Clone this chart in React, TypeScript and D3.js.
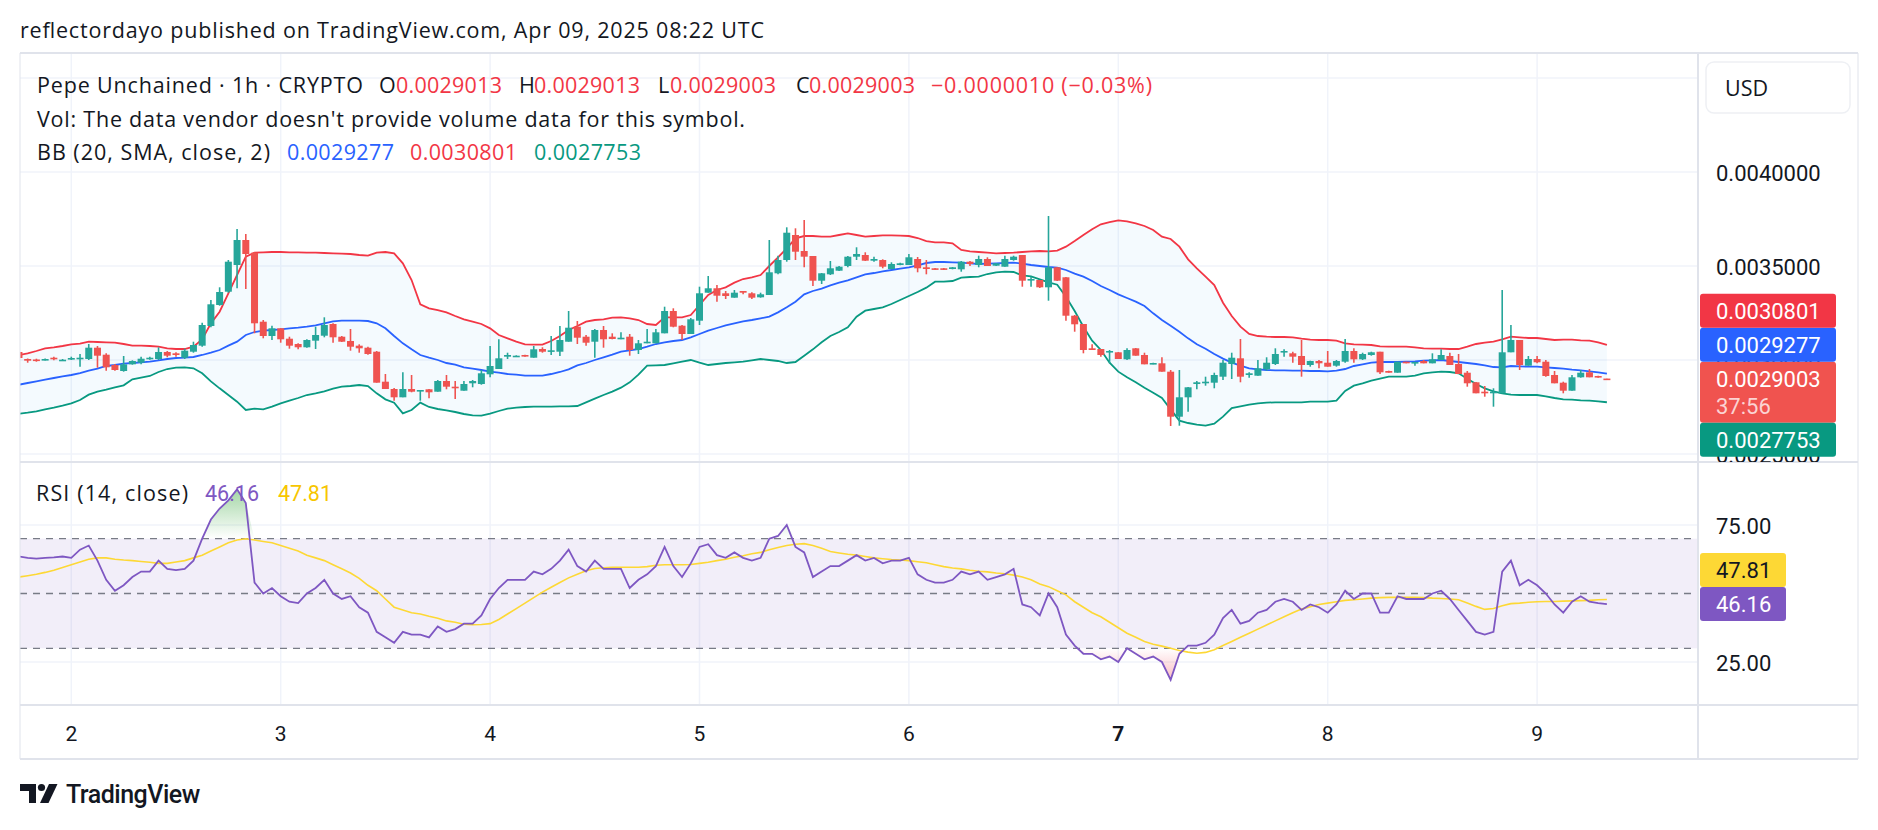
import React from "react";
import * as d3 from "d3";

// Prices are stored in units of 0.0000001 USD
const PRICE_UNIT = 1e-7;

const OPEN = [
  30426, 30053, 30027, 30000, 30122, 29984, 30053, 30053, 30053, 30654,
  30282, 29734, 29415, 29771, 29856, 30053, 30053, 30426, 30356, 30122,
  30441, 30761, 31808, 32925, 33633, 35053, 36383, 35707, 32037, 31277,
  31686, 31133, 30851, 30676, 31027, 31292, 31915, 31239, 31011, 30761,
  30654, 30441, 28846, 28457, 28016, 28457, 28351, 28442, 28314, 28883,
  28580, 28367, 28761, 28723, 29239, 29521, 30176, 30213, 30266, 30122,
  30585, 30479, 30441, 30973, 31771, 31239, 30973, 31596, 31239, 31154,
  31239, 30532, 30957, 30888, 31420, 32606, 31824, 31383, 32090, 33580,
  33814, 33548, 33314, 33670, 33548, 33335, 33457, 34612, 35319, 36649,
  35798, 35532, 34218, 34558, 34750, 35000, 35495, 35585, 35282, 35319,
  34840, 35053, 35053, 35372, 34931, 34878, 34878, 34840, 34824, 35229,
  35053, 35372, 35016, 34963, 35319, 35585, 34255, 34255, 33867, 34931,
  34399, 32356, 31915, 30622, 30585, 30410, 30410, 30037, 30622, 30266,
  29787, 29824, 29378, 26984, 28016, 28723, 28761, 28793, 29112, 29787,
  30090, 29202, 29165, 29505, 29787, 30410, 30356, 30213, 29734, 29947,
  29856, 29697, 29910, 30479, 30037, 30266, 30441, 29415, 29324, 29910,
  29824, 29947, 29824, 30000, 30213, 29787, 29324, 28814, 28314, 28229,
  28229, 30410, 31064, 29697, 30053, 29910, 29202, 28793, 28367, 29080,
  29346, 29149, 29013,
];
const HIGH = [
  30532, 30080, 30069, 30080, 30176, 30053, 30176, 30319, 30851, 30745,
  30356, 29787, 30213, 29984, 30176, 30176, 30676, 30479, 30410, 30601,
  30973, 31984, 33191, 33867, 35319, 36968, 36702, 35745, 32128, 31824,
  31702, 31239, 30888, 31101, 31771, 32271, 31952, 31277, 31649, 30835,
  30707, 30479, 29255, 28511, 29346, 29202, 28404, 28457, 28936, 29202,
  28883, 28883, 28936, 29468, 30745, 31101, 30388, 30250, 30282, 30745,
  30676, 31277, 31808, 32606, 32074, 31330, 31649, 31808, 31420, 31473,
  31383, 31064, 31649, 31649, 32835, 32750, 31862, 32234, 33899, 34468,
  33989, 33670, 33723, 33670, 33601, 33580, 36383, 35548, 37058, 37005,
  37447, 35532, 34628, 35266, 35000, 35532, 35995, 35729, 35495, 35356,
  35197, 35176, 35638, 35479, 35319, 34893, 34893, 34947, 35266, 35266,
  35548, 35463, 35160, 35548, 35548, 35585, 34431, 34255, 37659, 34947,
  34415, 32394, 31915, 30835, 30585, 30532, 30426, 30622, 30638, 30388,
  29856, 30144, 29468, 29468, 28564, 28883, 29112, 29324, 30000, 30388,
  31117, 29346, 30000, 30144, 30622, 30569, 30441, 31064, 29963, 30000,
  30479, 30000, 31117, 30622, 30388, 30441, 30441, 29431, 29910, 29910,
  29910, 30000, 30356, 30569, 30388, 30319, 29415, 28830, 28617, 28495,
  33723, 31862, 31064, 30213, 30213, 30000, 29415, 28846, 29202, 29468,
  29521, 29165, 29013,
];
const LOW = [
  30000, 29856, 29910, 29973, 29984, 29947, 30000, 29644, 30000, 29590,
  29431, 29431, 29378, 29750, 29771, 30016, 30000, 30144, 30176, 30053,
  30388, 30707, 31739, 32888, 33580, 33814, 33776, 31420, 31154, 31064,
  30920, 30601, 30569, 30654, 30585, 31207, 30920, 30957, 30495, 30388,
  30282, 28793, 28457, 27835, 28016, 28282, 27835, 27963, 28314, 28442,
  27926, 28367, 28548, 28686, 29080, 29521, 30053, 30197, 30176, 30122,
  30388, 30266, 30213, 30973, 30851, 30761, 30122, 30654, 31101, 31101,
  30229, 30319, 30888, 30888, 31420, 31739, 31064, 31383, 31862, 33580,
  33101, 33245, 33314, 33495, 33245, 33314, 33457, 34558, 35229, 35319,
  34931, 33936, 34043, 34521, 34734, 34931, 35319, 35266, 35229, 34878,
  34824, 35037, 35053, 34665, 34558, 34803, 34787, 34824, 34697, 35000,
  34931, 35000, 35000, 34963, 35282, 33899, 33899, 33830, 33154, 34202,
  32090, 31505, 30356, 30532, 30176, 29824, 30053, 30000, 30229, 29771,
  29771, 29378, 26489, 26505, 27250, 28442, 28633, 28495, 28936, 28989,
  28814, 29059, 29165, 29431, 29734, 30176, 29856, 29112, 29644, 29559,
  29644, 29644, 29856, 29856, 30000, 30229, 29255, 29324, 29324, 29824,
  29697, 29824, 29824, 30000, 29734, 29255, 28580, 28229, 28048, 27516,
  28229, 30410, 29468, 29697, 29824, 29112, 28761, 28229, 28367, 29059,
  29080, 29059, 29003,
];
const CLOSE = [
  30106, 29963, 29973, 30053, 30053, 30016, 30106, 30122, 30654, 30229,
  29612, 29468, 29771, 29947, 30069, 30122, 30426, 30229, 30266, 30495,
  30798, 31862, 32963, 33617, 35229, 36383, 35638, 31952, 31277, 31686,
  31101, 30761, 30676, 31064, 31330, 31862, 31207, 30973, 30707, 30622,
  30319, 28793, 28457, 28016, 28457, 28314, 28404, 28282, 28883, 28580,
  28495, 28723, 28883, 29293, 29681, 30090, 30266, 30229, 30197, 30569,
  30441, 30516, 31064, 31718, 31186, 30920, 31596, 31101, 31117, 31186,
  30532, 30888, 30973, 31473, 32606, 31771, 31383, 32165, 33548, 33814,
  33420, 33404, 33580, 33580, 33314, 33495, 34665, 35319, 36771, 35760,
  35495, 34218, 34612, 34878, 34963, 35495, 35638, 35282, 35372, 34963,
  35106, 35144, 35463, 34878, 34840, 34824, 34803, 34931, 35229, 35106,
  35372, 35000, 35144, 35372, 35495, 34218, 34308, 33867, 34931, 34218,
  32356, 31899, 30532, 30532, 30266, 30479, 30053, 30532, 30229, 29771,
  29840, 29378, 26984, 28016, 28548, 28814, 28846, 29202, 29856, 30122,
  29112, 29293, 29559, 29856, 30319, 30479, 30176, 29734, 29947, 29824,
  29644, 29947, 30479, 30037, 30319, 30410, 29346, 29324, 29910, 29824,
  29894, 29824, 30037, 30266, 29734, 29255, 28761, 28229, 28229, 28314,
  30410, 31064, 29734, 30053, 29878, 29149, 28761, 28367, 29080, 29324,
  29080, 29080, 29003,
];
const BB_UPPER = [
  30266, 30354, 30479, 30621, 30674, 30745, 30833, 30869, 30975, 30957,
  30940, 30922, 30851, 30762, 30762, 30745, 30709, 30621, 30585, 30585,
  30709, 31099, 31950, 32571, 33546, 34521, 35496, 35709, 35727, 35744,
  35744, 35727, 35727, 35709, 35709, 35691, 35673, 35656, 35638, 35585,
  35549, 35709, 35744, 35673, 35142, 34255, 32961, 32748, 32659, 32535,
  32341, 32163, 32039, 31915, 31684, 31329, 31152, 30975, 30833, 30816,
  30816, 31010, 31276, 31595, 31808, 32039, 32128, 32163, 32252, 32269,
  32216, 32128, 31915, 31862, 32269, 32269, 32269, 32393, 32925, 33457,
  33723, 33865, 34113, 34308, 34397, 34521, 35000, 35461, 35939, 36471,
  36595, 36595, 36560, 36560, 36649, 36737, 36649, 36560, 36595, 36631,
  36631, 36613, 36595, 36489, 36329, 36259, 36259, 36205, 35851, 35780,
  35744, 35709, 35673, 35691, 35709, 35744, 35780, 35798, 35780, 35815,
  36028, 36329, 36649, 36950, 37216, 37340, 37429, 37376, 37269, 37127,
  36915, 36560, 36436, 36028, 35354, 34876, 34431, 33989, 33049, 32340,
  31773, 31383, 31276, 31241, 31223, 31223, 31205, 31135, 31081, 31064,
  31064, 31028, 30886, 30833, 30816, 30798, 30727, 30709, 30709, 30709,
  30674, 30621, 30603, 30603, 30585, 30585, 30709, 30851, 30922, 30975,
  31099, 31241, 31205, 31170, 31170, 31117, 31064, 31081, 31081, 31046,
  31028, 30940, 30801,
];
const BB_BASIS = [
  28688, 28777, 28865, 28954, 29043, 29131, 29202, 29308, 29432, 29539,
  29681, 29734, 29805, 29840, 29876, 29911, 29982, 30053, 30106, 30124,
  30160, 30266, 30390, 30532, 30762, 30975, 31330, 31489, 31560, 31596,
  31631, 31684, 31720, 31773, 31844, 31950, 32057, 32092, 32092, 32092,
  32074, 31950, 31684, 31276, 30886, 30567, 30266, 30124, 30000, 29840,
  29752, 29610, 29539, 29468, 29379, 29326, 29255, 29220, 29167, 29167,
  29167, 29255, 29362, 29503, 29716, 29840, 30000, 30142, 30284, 30443,
  30514, 30585, 30709, 30851, 30940, 31010, 31064, 31206, 31383, 31560,
  31702, 31844, 31950, 32057, 32128, 32216, 32305, 32535, 32801, 33103,
  33493, 33670, 33794, 33971, 34113, 34237, 34397, 34556, 34627, 34716,
  34787, 34858, 34929, 35035, 35159, 35212, 35212, 35195, 35177, 35142,
  35106, 35124, 35142, 35159, 35177, 35124, 35053, 35000, 34947, 34911,
  34787, 34592, 34432, 34202, 33936, 33723, 33493, 33298, 33102, 32872,
  32482, 32127, 31826, 31507, 31152, 30833, 30603, 30319, 30071, 29858,
  29698, 29557, 29503, 29468, 29450, 29450, 29432, 29432, 29415, 29415,
  29397, 29432, 29521, 29681, 29769, 29858, 29893, 29893, 29893, 29911,
  29929, 29965, 29982, 30000, 29947, 29893, 29840, 29787, 29716, 29627,
  29610, 29681, 29663, 29645, 29645, 29610, 29574, 29539, 29486, 29450,
  29397, 29344, 29277,
];
const BB_LOWER = [
  27145, 27199, 27269, 27376, 27465, 27571, 27695, 27872, 28156, 28316,
  28422, 28546, 28652, 28971, 29060, 29149, 29361, 29521, 29592, 29610,
  29557, 29291, 28865, 28493, 28138, 27784, 27340, 27411, 27376, 27518,
  27695, 27837, 27979, 28138, 28227, 28333, 28475, 28581, 28617, 28670,
  28617, 28227, 27908, 27730, 27163, 27340, 27730, 27500, 27394, 27323,
  27234, 27128, 27057, 27039, 27145, 27287, 27411, 27465, 27500, 27518,
  27518, 27518, 27535, 27535, 27553, 27748, 27943, 28138, 28316, 28528,
  28812, 29220, 29698, 29716, 29734, 29822, 29911, 30000, 29858, 29734,
  29787, 29840, 29876, 29911, 29982, 30053, 30000, 29947, 29840, 29893,
  30230, 30567, 30940, 31276, 31489, 31737, 32305, 32624, 32713, 32801,
  32979, 33191, 33404, 33617, 33847, 34166, 34166, 34202, 34379, 34415,
  34432, 34574, 34663, 34698, 34681, 34503, 34450, 34291, 34131, 34007,
  33369, 32606, 31773, 31028, 30532, 29858, 29379, 29078, 28812, 28528,
  28262, 27979, 27376, 26773, 26649, 26560, 26507, 26613, 26986, 27447,
  27535, 27624, 27695, 27730, 27748, 27748, 27748, 27748, 27784, 27784,
  27784, 27837, 28351, 28635, 28759, 28901, 29007, 29113, 29113, 29113,
  29167, 29291, 29344, 29379, 29361, 29291, 29007, 28723, 28493, 28333,
  28227, 28156, 28138, 28138, 28138, 28067, 27979, 27908, 27890, 27854,
  27837, 27801, 27753,
];
const RSI = [
  63.5, 63, 62.7, 63, 63.2, 63.5, 63, 66, 67.5, 62,
  55, 51, 53, 56, 58, 58, 62, 59, 58.5, 59,
  62, 70, 77, 81, 84, 88, 83, 54, 50, 52,
  49, 47, 46.5, 50, 52, 55, 50, 48, 49, 45,
  43, 36, 34, 32, 36, 35, 35, 34, 38, 36,
  37, 39, 39, 42, 48, 52, 55, 55, 55, 58,
  57, 59, 62, 66, 60, 58, 62, 59, 59, 59,
  52, 55, 57, 60, 67, 60, 56, 61, 67, 68,
  64, 63, 65, 63, 62, 63, 70, 71, 75, 67,
  65, 56, 58, 60, 60, 62, 64, 62, 63, 61,
  62, 62, 63, 57, 55, 54, 54, 55, 58, 57,
  58, 55, 56, 57, 59, 46, 45, 42, 50, 45,
  35, 31, 28, 28, 26, 27, 25, 30, 28, 26,
  27, 25, 18.5, 28, 31, 31, 32, 35, 41, 44,
  39, 40, 43, 44, 47, 48, 47, 44, 46, 45,
  43, 46, 51, 48, 50, 50, 43, 43, 49, 48,
  48, 48, 50, 51, 48, 44, 40, 36, 35, 36,
  58, 62, 53, 55, 53, 50, 46, 43, 47, 49,
  47, 46.5, 46.16,
];
const RSI_MA = [
  56, 56.5, 57, 57.7, 58.5, 59.5, 60.5, 61.5, 62.5, 63,
  63, 62.5, 62.2, 62, 61.7, 61.4, 61, 61, 61.5, 62,
  63, 64, 65.5, 67, 68.5, 69.5, 70, 69.5, 69, 68.5,
  67.5, 66.5, 65.5, 64, 63, 62, 60.5, 59, 57.5, 55.5,
  53, 51, 48, 45, 44, 43, 42.5, 41.7, 41, 40,
  39.5, 38.8, 38.6, 38.7, 39, 40.5, 42.5, 44.5, 46.5, 48.5,
  50.5, 52.3, 54, 55.7, 57, 58.3, 59.1, 59.4, 59.6, 59.6,
  59.6, 59.6, 59.8, 60.3, 60.5, 60.5, 60.5, 60.6, 61, 61.4,
  62, 62.5, 63.2, 63.8, 64.5, 65, 66, 66.8, 67.5, 68,
  68.2, 67.5, 66.5, 65.3, 64.8, 64.3, 64, 63.5, 63, 62.7,
  62.4, 62.2, 62, 61.6, 61.2, 60.5, 59.8, 59.3, 59, 58.5,
  58.1, 57.9, 57.5, 57.2, 56.7, 56, 55, 53.5, 52.5, 51,
  49.5, 47, 45, 43, 41.5, 39.5, 37.5, 35.5, 34, 32.5,
  31.5, 30.8, 30, 29.2, 28.6, 28.2, 28.5, 29.5, 31, 32.5,
  34, 35.5, 37, 38.5, 40, 41.5, 43, 44.3, 45.2, 46,
  46.5, 47, 47.5, 47.7, 48, 48.3, 48.5, 48.6, 48.6, 48.6,
  48.6, 48.5, 48.3, 48.2, 48, 47.7, 46.5, 45.3, 44.2, 44.5,
  45.5, 46.3, 46.5, 46.8, 47, 47.1, 47.1, 47.2, 47.3, 47.4,
  47.5, 47.7, 47.81,
];

const START_UTC = Date.UTC(2025, 3, 1, 18); // first visible hourly candle
const HOUR_MS = 3600 * 1000;
const DAY_LABELS = ["2", "3", "4", "5", "6", "7", "8", "9"];
const WEEK_START_LABEL = "7";
const PRICE_TICKS = [0.0025, 0.003, 0.0035, 0.004, 0.0045];
const RSI_TICKS = [25, 50, 75];
const RSI_LEVELS = [70, 50, 30];
const LEGEND_OHLC = { o: "0.0029013", h: "0.0029013", l: "0.0029003", c: "0.0029003", chg: "−0.0000010 (−0.03%)" };
const BB_LAST = { basis: 0.0029277, upper: 0.0030801, lower: 0.0027753 };
const LAST_CLOSE = 0.0029003;
const RSI_LAST = { rsi: 46.16, ma: 47.81 };
const COUNTDOWN = "37:56";

const FONT = "'Open Sans', Roboto, sans-serif";
const NUMFONT = "Roboto, 'Open Sans', sans-serif";
const TXT = "#131722";
const UP = "#26a69a";
const DOWN = "#ef5350";
const GRID = "#f0f3fa";
const BORDER = "#e0e3eb";

const PLOT_L = 20, PLOT_R = 1698, AXIS_R = 1858;
const PRICE_T = 53, PRICE_B = 462, RSI_B = 705, TIME_B = 759;

type Lbl = { key: string; y: number; h: number; color: string; text: string; tc: string; sub?: string };

function stackLabels(main: Lbl, others: Lbl[]) {
  const placed: (Lbl & { top: number })[] = [];
  const mainTop = main.y - 17;
  placed.push({ ...main, top: mainTop });
  let curTop = mainTop;
  let curBottom = mainTop + main.h;
  const above = others.filter((o) => o.y <= main.y).sort((a, b) => b.y - a.y);
  const below = others.filter((o) => o.y > main.y).sort((a, b) => a.y - b.y);
  above.forEach((o) => {
    const bottom = Math.min(o.y + o.h / 2, curTop);
    curTop = bottom - o.h;
    placed.push({ ...o, top: curTop });
  });
  below.forEach((o) => {
    const top = Math.max(o.y - o.h / 2, curBottom);
    curBottom = top + o.h;
    placed.push({ ...o, top });
  });
  return placed;
}

export default function App() {
  const n = CLOSE.length;
  const times = CLOSE.map((_, i) => new Date(START_UTC + i * HOUR_MS));
  const x = d3.scaleUtc().domain([times[0], times[n - 1]]).range([18.95, 1606.9]);
  const y = d3.scaleLinear().domain([0.0025, 0.0045]).range([454, 78]);
  const yr = d3.scaleLinear().domain([25, 75]).range([662, 525]);
  const py = (v: number) => y(v * PRICE_UNIT);
  const xi = (i: number) => x(times[i]);
  const dayTicks = d3.utcDay.range(new Date(Date.UTC(2025, 3, 2)), new Date(Date.UTC(2025, 3, 10)));

  const priceLine = d3.line<number>().x((_, i) => xi(i)).y((v) => py(v));
  const band = d3.area<number>().x((_, i) => xi(i)).y0((_, i) => py(BB_LOWER[i])).y1((v) => py(v))(BB_UPPER) || "";
  const rsiLine = d3.line<number>().x((_, i) => xi(i)).y((v) => yr(v));
  const obArea = d3.area<number>().x((_, i) => xi(i)).y0(yr(70)).y1((v) => yr(Math.max(v, 70)))(RSI) || "";
  const osArea = d3.area<number>().x((_, i) => xi(i)).y0(yr(30)).y1((v) => yr(Math.min(v, 30)))(RSI) || "";

  const bodyW = 7;
  const priceLabels = stackLabels(
    { key: "c", y: y(LAST_CLOSE), h: 61, color: "#f0534f", text: LAST_CLOSE.toFixed(7), tc: "#fff", sub: COUNTDOWN },
    [
      { key: "u", y: y(BB_LAST.upper), h: 34, color: "#f23645", text: BB_LAST.upper.toFixed(7), tc: "#fff" },
      { key: "b", y: y(BB_LAST.basis), h: 34, color: "#2962ff", text: BB_LAST.basis.toFixed(7), tc: "#fff" },
      { key: "l", y: y(BB_LAST.lower), h: 34, color: "#089981", text: BB_LAST.lower.toFixed(7), tc: "#fff" },
    ]
  );
  const rsiLabels = stackLabels(
    { key: "r", y: yr(RSI_LAST.rsi), h: 34, color: "#7e57c2", text: RSI_LAST.rsi.toFixed(2), tc: "#fff" },
    [{ key: "m", y: yr(RSI_LAST.ma), h: 34, color: "#fdd835", text: RSI_LAST.ma.toFixed(2), tc: TXT }]
  );

  return (
    <svg width={1878} height={830} style={{ position: "absolute", left: 0, top: 0, background: "#fff" }} fontFamily={FONT}>
      <defs>
        <clipPath id="pclip"><rect x={PLOT_L} y={PRICE_T} width={PLOT_R - PLOT_L} height={PRICE_B - PRICE_T} /></clipPath>
        <clipPath id="rclip"><rect x={PLOT_L} y={PRICE_B} width={PLOT_R - PLOT_L} height={RSI_B - PRICE_B} /></clipPath>
        <clipPath id="paxis"><rect x={PLOT_R} y={PRICE_T} width={AXIS_R - PLOT_R} height={PRICE_B - PRICE_T} /></clipPath>
        <linearGradient id="obg" gradientUnits="userSpaceOnUse" x1={0} x2={0} y1={yr(100)} y2={yr(70)}>
          <stop offset="0%" stopColor="#4caf50" stopOpacity={0.85} />
          <stop offset="100%" stopColor="#4caf50" stopOpacity={0} />
        </linearGradient>
        <linearGradient id="osg" gradientUnits="userSpaceOnUse" x1={0} x2={0} y1={yr(30)} y2={yr(0)}>
          <stop offset="0%" stopColor="#f23645" stopOpacity={0} />
          <stop offset="100%" stopColor="#f23645" stopOpacity={0.85} />
        </linearGradient>
      </defs>
      <rect x={0} y={0} width={1878} height={830} fill="#fff" />

      {/* title */}
      <text x={20} y={38} fontSize={21.5} fill={TXT} textLength={744} lengthAdjust="spacing">reflectordayo published on TradingView.com, Apr 09, 2025 08:22 UTC</text>

      {/* grid */}
      {dayTicks.map((d, k) => (
        <line key={"vg" + k} x1={x(d)} x2={x(d)} y1={PRICE_T} y2={RSI_B} stroke={GRID} strokeWidth={1.5} />
      ))}
      {PRICE_TICKS.map((t) => (
        <line key={"pg" + t} x1={PLOT_L} x2={PLOT_R} y1={y(t)} y2={y(t)} stroke={GRID} strokeWidth={1.5} />
      ))}
      {RSI_TICKS.filter((t) => t !== 50).map((t) => (
        <line key={"rg" + t} x1={PLOT_L} x2={PLOT_R} y1={yr(t)} y2={yr(t)} stroke={GRID} strokeWidth={1.5} />
      ))}

      {/* price pane */}
      <g clipPath="url(#pclip)">
        <path d={band} fill="rgba(33,150,243,0.05)" />
        <path d={priceLine(BB_UPPER) || ""} fill="none" stroke="#f23645" strokeWidth={1.8} />
        <path d={priceLine(BB_LOWER) || ""} fill="none" stroke="#089981" strokeWidth={1.8} />
        <path d={priceLine(BB_BASIS) || ""} fill="none" stroke="#2962ff" strokeWidth={1.8} />
        {CLOSE.map((c, i) => {
          const o = OPEN[i];
          const up = c >= o;
          const col = up ? UP : DOWN;
          const hi = Math.max(HIGH[i], o, c);
          const lo = Math.min(LOW[i], o, c);
          const yTop = py(Math.max(o, c));
          const yBot = py(Math.min(o, c));
          const cx = xi(i);
          return (
            <g key={"c" + i}>
              <line x1={cx} x2={cx} y1={py(hi)} y2={py(lo)} stroke={col} strokeWidth={1.6} />
              <rect x={cx - bodyW / 2} y={yTop} width={bodyW} height={Math.max(1.6, yBot - yTop)} fill={col} />
            </g>
          );
        })}
      </g>

      {/* legends */}
      <g fontSize={21.5} fill={TXT}>
        <text x={37} y={93} textLength={326} lengthAdjust="spacing">Pepe Unchained · 1h · CRYPTO</text>
        <text x={379} y={93}>O</text>
        <text x={396} y={93} fill="#f23645" textLength={106} lengthAdjust="spacing">{LEGEND_OHLC.o}</text>
        <text x={519} y={93}>H</text>
        <text x={534} y={93} fill="#f23645" textLength={106} lengthAdjust="spacing">{LEGEND_OHLC.h}</text>
        <text x={658} y={93}>L</text>
        <text x={670} y={93} fill="#f23645" textLength={106} lengthAdjust="spacing">{LEGEND_OHLC.l}</text>
        <text x={796} y={93}>C</text>
        <text x={809} y={93} fill="#f23645" textLength={106} lengthAdjust="spacing">{LEGEND_OHLC.c}</text>
        <text x={931} y={93} fill="#f23645" textLength={221} lengthAdjust="spacing">{LEGEND_OHLC.chg}</text>
        <text x={37} y={127} textLength={708} lengthAdjust="spacing">Vol: The data vendor doesn't provide volume data for this symbol.</text>
        <text x={37} y={160} textLength={233} lengthAdjust="spacing">BB (20, SMA, close, 2)</text>
        <text x={287} y={160} fill="#2962ff" textLength={107} lengthAdjust="spacing">{BB_LAST.basis.toFixed(7)}</text>
        <text x={410} y={160} fill="#f23645" textLength={107} lengthAdjust="spacing">{BB_LAST.upper.toFixed(7)}</text>
        <text x={534} y={160} fill="#089981" textLength={107} lengthAdjust="spacing">{BB_LAST.lower.toFixed(7)}</text>
      </g>

      {/* RSI pane */}
      <g clipPath="url(#rclip)">
        <rect x={PLOT_L} y={yr(70)} width={PLOT_R - PLOT_L} height={yr(30) - yr(70)} fill="rgba(126,87,194,0.1)" />
        {RSI_LEVELS.map((l) => (
          <line key={"lv" + l} x1={PLOT_L} x2={PLOT_R} y1={yr(l)} y2={yr(l)} stroke="#787b86" strokeWidth={1.3} strokeDasharray="7 6" />
        ))}
        <path d={obArea} fill="url(#obg)" />
        <path d={osArea} fill="url(#osg)" />
        <path d={rsiLine(RSI_MA) || ""} fill="none" stroke="#fdd835" strokeWidth={1.6} />
        <path d={rsiLine(RSI) || ""} fill="none" stroke="#7e57c2" strokeWidth={1.8} />
      </g>
      <g fontSize={21.5}>
        <text x={36} y={501} fill={TXT} textLength={152} lengthAdjust="spacing">RSI (14, close)</text>
        <text x={205} y={501} fill="#7e57c2" fontFamily={NUMFONT}>{RSI_LAST.rsi.toFixed(2)}</text>
        <text x={278} y={501} fill="#f7c600" fontFamily={NUMFONT}>{RSI_LAST.ma.toFixed(2)}</text>
      </g>

      {/* frame */}
      <line x1={PLOT_L} x2={AXIS_R} y1={PRICE_T} y2={PRICE_T} stroke={BORDER} strokeWidth={2} />
      <line x1={PLOT_L} x2={PLOT_L} y1={PRICE_T} y2={TIME_B} stroke={BORDER} strokeWidth={1} />
      <line x1={AXIS_R} x2={AXIS_R} y1={PRICE_T} y2={TIME_B} stroke={BORDER} strokeWidth={1} />
      <line x1={PLOT_L} x2={AXIS_R} y1={TIME_B} y2={TIME_B} stroke={BORDER} strokeWidth={2} />
      <line x1={PLOT_R} x2={PLOT_R} y1={PRICE_T} y2={TIME_B} stroke={BORDER} strokeWidth={2} />
      <line x1={PLOT_L} x2={AXIS_R} y1={PRICE_B} y2={PRICE_B} stroke={BORDER} strokeWidth={2} />
      <line x1={PLOT_L} x2={AXIS_R} y1={RSI_B} y2={RSI_B} stroke={BORDER} strokeWidth={2} />

      {/* price axis */}
      <g clipPath="url(#paxis)" fontSize={22} fill={TXT} fontFamily={NUMFONT}>
        {PRICE_TICKS.map((t) => (
          <text key={"pt" + t} x={1716} y={y(t) + 8.5}>{t.toFixed(7)}</text>
        ))}
        <rect x={1706} y={62} width={144} height={51} rx={8} fill="#fff" stroke="#eef0f4" strokeWidth={1.5} />
        <text x={1725} y={96} fontFamily={FONT} fontSize={21.5}>USD</text>
        {priceLabels.map((l) => (
          <g key={"pl" + l.key}>
            <rect x={1700} y={l.top} width={136} height={l.h} rx={3} fill={l.color} />
            <text x={1716} y={l.top + 25} fill={l.tc}>{l.text}</text>
            {l.sub && <text x={1716} y={l.top + 52} fill="rgba(255,255,255,0.75)">{l.sub}</text>}
          </g>
        ))}
      </g>

      {/* rsi axis */}
      <g fontSize={22} fill={TXT} fontFamily={NUMFONT}>
        {RSI_TICKS.map((t) => (
          <text key={"rt" + t} x={1716} y={yr(t) + 9}>{t.toFixed(2)}</text>
        ))}
        {rsiLabels.map((l) => (
          <g key={"rl" + l.key}>
            <rect x={1700} y={l.top} width={86} height={l.h} rx={3} fill={l.color} />
            <text x={1716} y={l.top + 25} fill={l.tc}>{l.text}</text>
          </g>
        ))}
      </g>

      {/* time axis */}
      <g fontSize={21} fill={TXT} textAnchor="middle" fontFamily={NUMFONT}>
        {dayTicks.map((d, k) => (
          <text key={"tl" + k} x={x(d)} y={741} fontWeight={DAY_LABELS[k] === WEEK_START_LABEL ? 700 : 400}>{DAY_LABELS[k]}</text>
        ))}
      </g>

      {/* TradingView logo */}
      <g fill={TXT}>
        <path d="M20 784 H36 V803 H29 V791 H20 Z" />
        <circle cx={41.5} cy={787.5} r={3.6} />
        <path d="M49 784 H57.5 L48.5 803 H40 Z" />
        <text x={66} y={803} fontSize={25} fontWeight={500} fontFamily={NUMFONT} letterSpacing={-0.5}>TradingView</text>
      </g>
    </svg>
  );
}
